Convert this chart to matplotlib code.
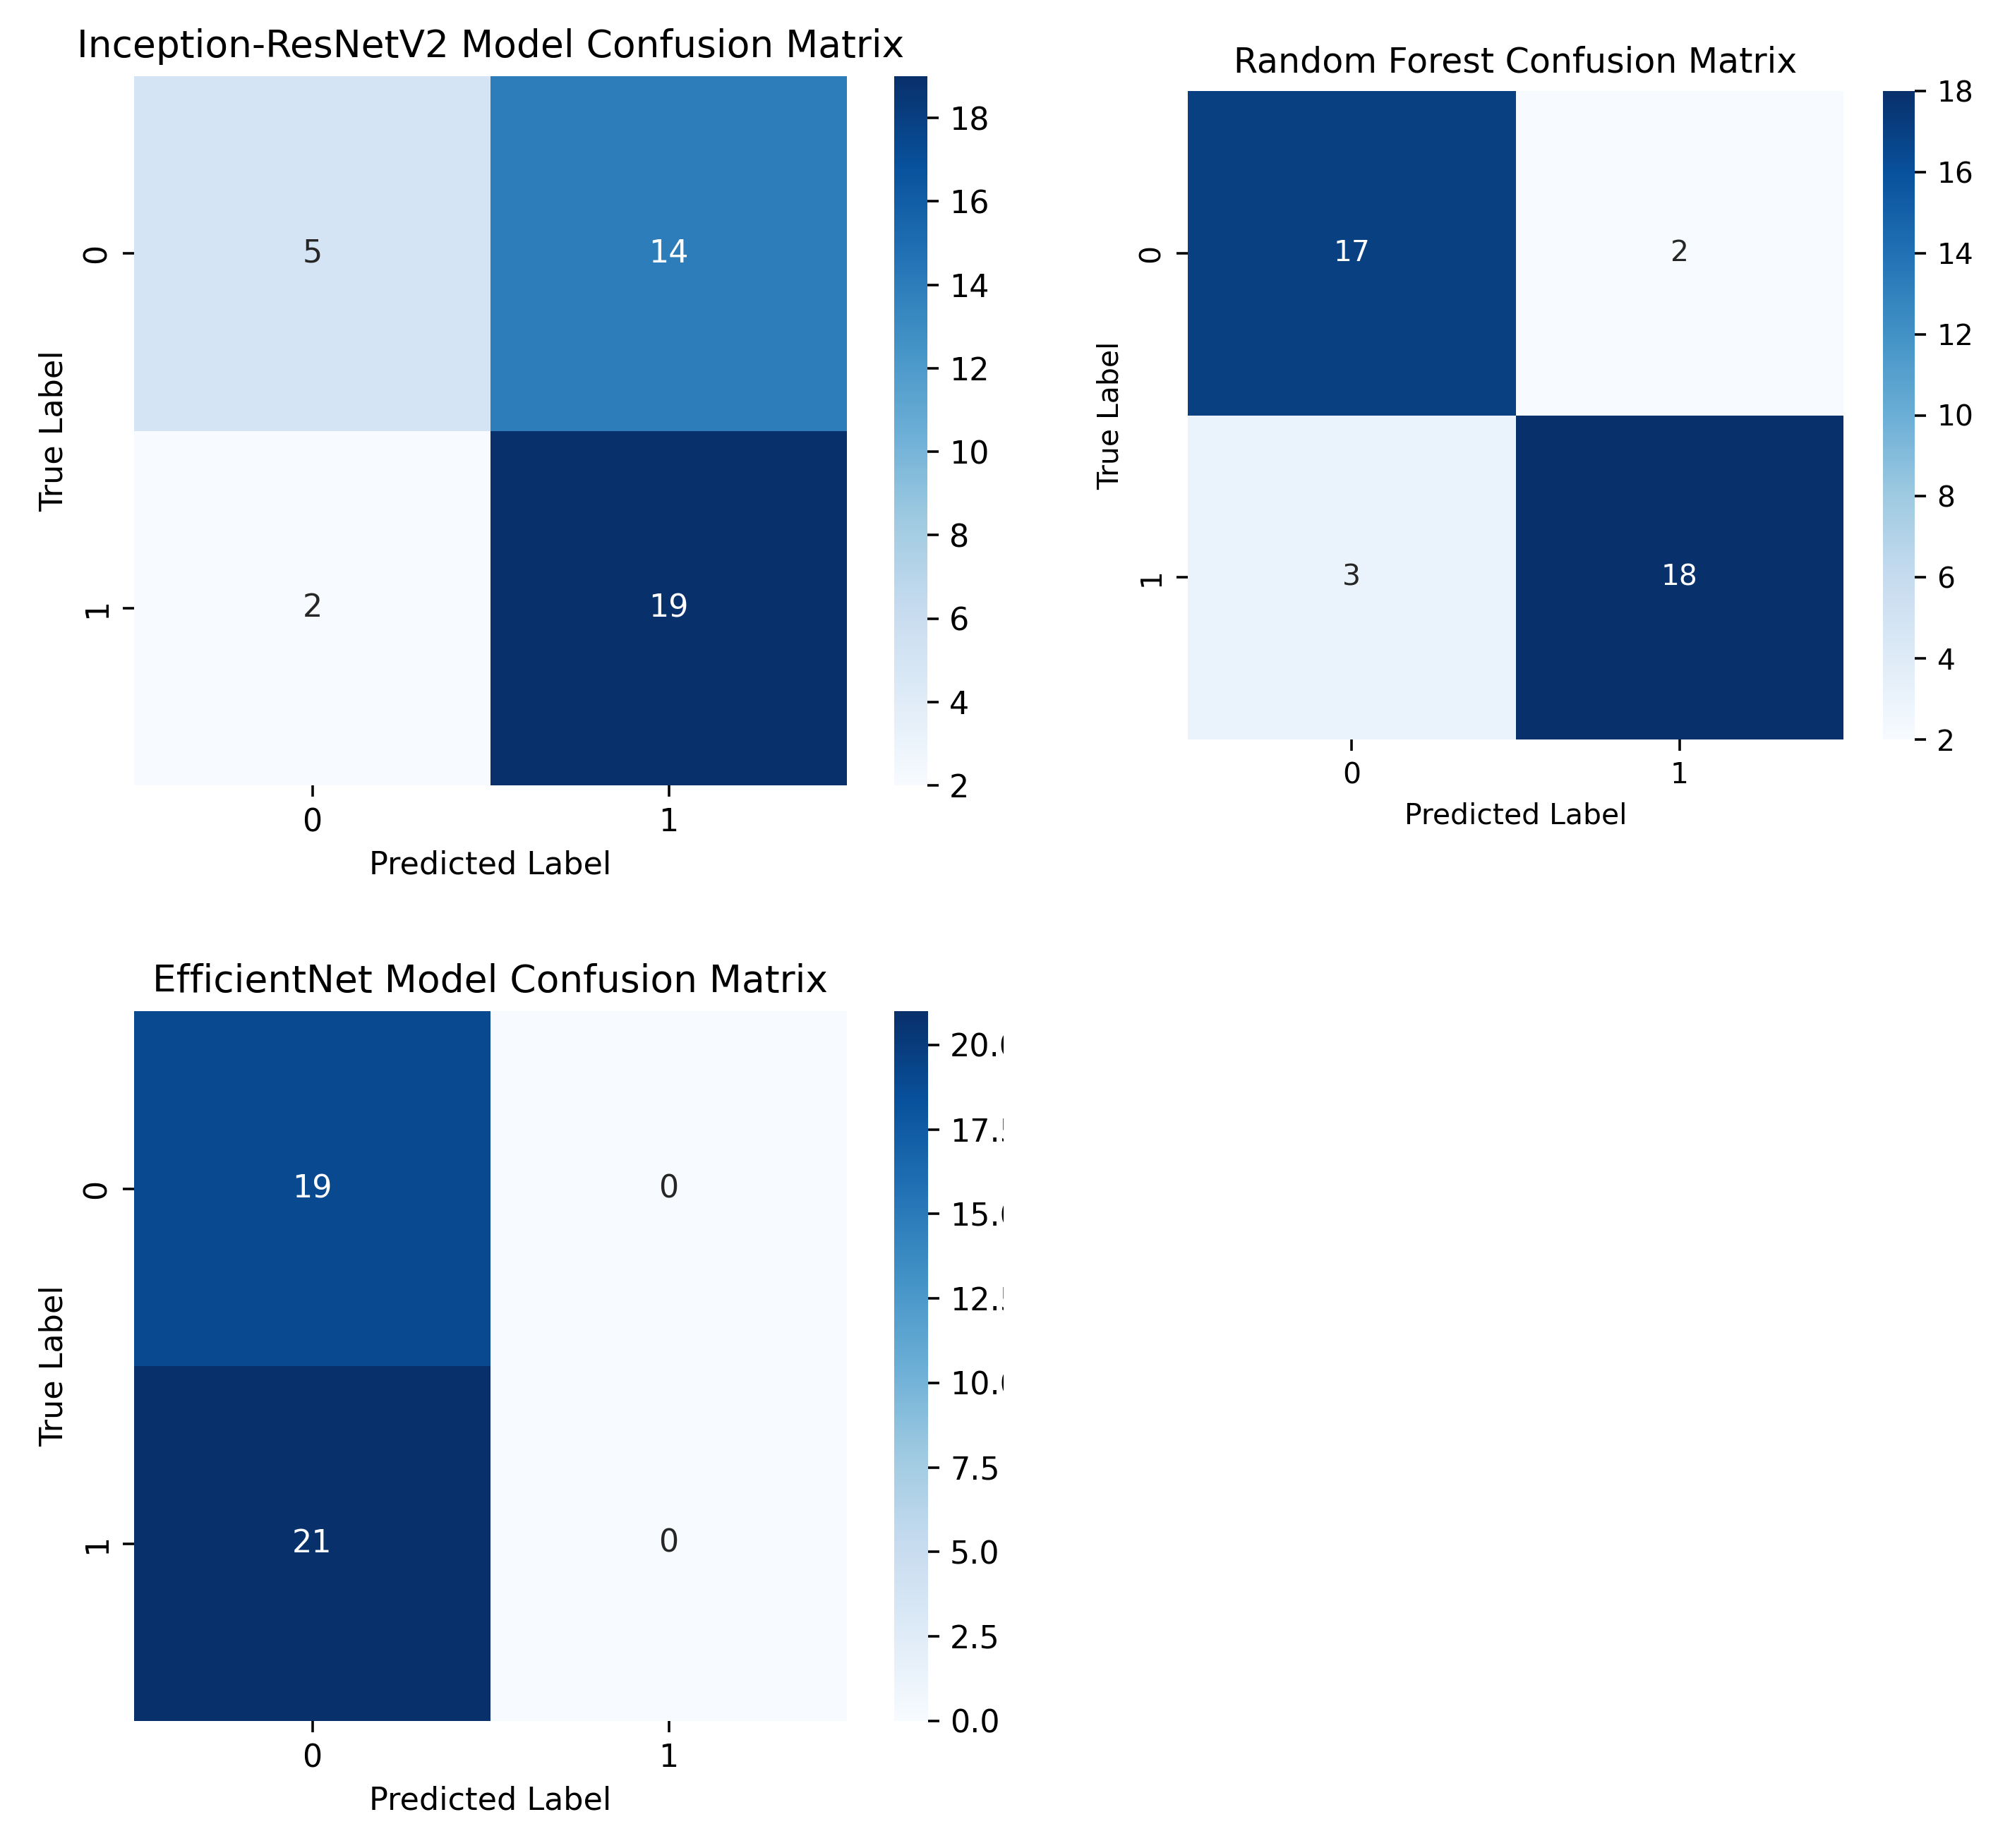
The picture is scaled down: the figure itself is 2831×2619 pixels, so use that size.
import numpy as np
import matplotlib
matplotlib.use("Agg")
import matplotlib.pyplot as plt
import seaborn as sns
from matplotlib.transforms import Bbox, TransformedBbox

# confusion matrices
class_labels = ["0", "1"]

inception_title = "Inception-ResNetV2 Model Confusion Matrix"
inception_cm = [[5, 14],
                [2, 19]]

forest_title = "Random Forest Confusion Matrix"
forest_cm = [[17, 2],
             [3, 18]]

effnet_title = "EfficientNet Model Confusion Matrix"
effnet_cm = [[19, 0],
             [21, 0]]

W, H = 2831, 2619
DPI = 320


def frac(x0, y0, x1, y1):
    # pixel box (top-left origin) -> figure fraction rect
    return [x0 / W, 1 - y1 / H, (x1 - x0) / W, (y1 - y0) / H]


def draw_cm(fig, ax_rect, cb_rect, cm, title, scale=1.0):
    ax = fig.add_axes(ax_rect)
    cax = fig.add_axes(cb_rect)
    sns.heatmap(np.array(cm), annot=True, fmt="d", cmap="Blues",
                xticklabels=class_labels, yticklabels=class_labels,
                ax=ax, cbar_ax=cax, annot_kws={"size": 10 * scale})
    ax.set_title(title, fontsize=12 * scale)
    ax.set_xlabel("Predicted Label", fontsize=10 * scale)
    ax.set_ylabel("True Label", fontsize=10 * scale)
    ax.tick_params(labelsize=10 * scale)
    plt.setp(ax.get_yticklabels(), rotation=90, va="center")
    plt.setp(ax.get_xticklabels(), rotation=0)
    cax.tick_params(labelsize=10 * scale)
    return ax, cax


fig = plt.figure(figsize=(W / DPI, H / DPI), dpi=DPI)

draw_cm(fig, frac(190, 108, 1200, 1113), frac(1267, 108, 1314, 1113),
        inception_cm, inception_title)
draw_cm(fig, frac(1683, 129, 2612, 1048), frac(2668, 129, 2713, 1048),
        forest_cm, forest_title, scale=0.92)
ax3, cax3 = draw_cm(fig, frac(190, 1433, 1200, 2439), frac(1267, 1433, 1315, 2439),
                    effnet_cm, effnet_title)
cax3.yaxis.set_major_formatter(matplotlib.ticker.FormatStrFormatter("%.1f"))

fig.canvas.draw()
# the bottom colorbar labels are cut off in the original
clip = TransformedBbox(Bbox([[0, 0], [1422 / W, 1]]), fig.transFigure)
for lbl in cax3.get_yticklabels():
    lbl.set_clip_box(clip)
    lbl.set_clip_on(True)

plt.savefig("out.png", dpi=DPI)
plt.close(fig)
